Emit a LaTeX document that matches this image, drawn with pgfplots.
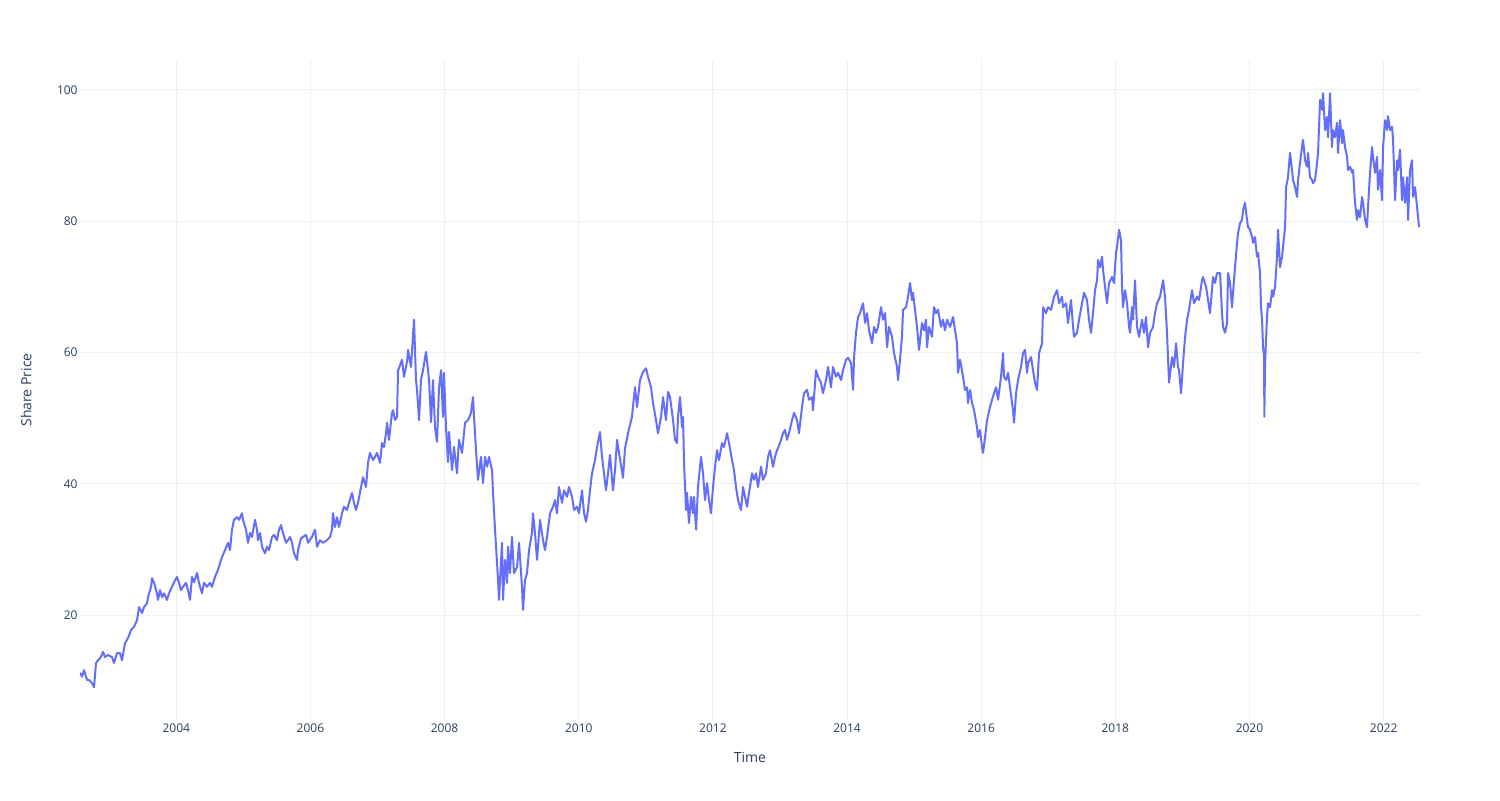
\documentclass[border=0pt]{standalone}
\usepackage{fontspec}
\setmainfont{Open Sans}
\usepackage{pgfplots}
\pgfplotsset{compat=1.18}
\definecolor{plotline}{HTML}{636EFA}
\definecolor{gridc}{HTML}{EBF0F8}
\definecolor{labc}{HTML}{2A3F5F}
\begin{document}
\begin{tikzpicture}
\useasboundingbox (-40pt,-40pt) rectangle (710pt,360pt);
\begin{axis}[
  at={(0,0)}, anchor=south west,
  scale only axis, width=670pt, height=330pt,
  xmin=2002.564, xmax=2022.543, ymin=4.0, ymax=104.57,
  axis line style={draw=none},
  major tick length=0pt,
  xtick={2004,2006,...,2022}, ytick={20,40,60,80,100},
  grid=major, major grid style={color=gridc, line width=0.5pt},
  /pgf/number format/1000 sep={},
  /pgf/number format/assume math mode=true,
  xticklabel style={font=\fontsize{6}{7}\selectfont, text=labc, inner sep=0pt, anchor=center, yshift=-4.3pt},
  yticklabel style={font=\fontsize{6}{7}\selectfont, text=labc, inner sep=0pt, anchor=east, xshift=-1pt},
  every axis x label/.style={at={(axis description cs:0.5,0)}, anchor=center, yshift=-18.5pt, font=\fontsize{7}{8}\selectfont, text=labc},
  every axis y label/.style={at={(axis description cs:0,0.5)}, anchor=center, xshift=-27pt, rotate=90, font=\fontsize{7}{8}\selectfont, text=labc},
  xlabel={Time}, ylabel={Share Price},
]
\addplot[plotline, line width=1pt, line join=round, no marks] table {
x y
2002.564 11.2
2002.594 10.6
2002.624 11.6
2002.669 10.1
2002.698 10.1
2002.743 9.6
2002.773 9.0
2002.803 12.7
2002.833 13.1
2002.877 13.6
2002.907 14.4
2002.937 13.6
2002.982 13.9
2003.041 13.6
2003.071 12.7
2003.116 14.2
2003.161 14.2
2003.190 13.1
2003.235 15.7
2003.280 16.5
2003.325 17.7
2003.369 18.2
2003.414 19.2
2003.444 21.2
2003.489 20.3
2003.518 21.2
2003.563 21.8
2003.578 22.7
2003.623 24.3
2003.638 25.6
2003.668 24.9
2003.712 23.3
2003.727 22.3
2003.757 23.8
2003.787 22.7
2003.817 23.3
2003.861 22.3
2003.891 23.3
2003.936 24.3
2003.966 25.0
2004.010 25.8
2004.040 24.9
2004.070 23.8
2004.100 24.3
2004.145 24.9
2004.174 23.8
2004.204 22.3
2004.234 25.8
2004.264 25.0
2004.309 26.4
2004.338 24.9
2004.383 23.3
2004.413 24.9
2004.458 24.3
2004.502 24.9
2004.532 24.3
2004.577 25.8
2004.622 26.9
2004.652 27.9
2004.681 28.8
2004.726 29.9
2004.771 31.0
2004.801 29.9
2004.830 33.0
2004.860 34.5
2004.905 34.9
2004.935 34.5
2004.980 35.5
2004.994 34.5
2005.039 33.0
2005.069 31.0
2005.099 32.5
2005.129 31.9
2005.173 34.5
2005.203 33.0
2005.218 31.4
2005.248 32.5
2005.278 30.4
2005.322 29.4
2005.352 30.4
2005.382 29.9
2005.427 31.9
2005.457 32.2
2005.501 31.4
2005.531 33.0
2005.561 33.7
2005.591 32.5
2005.636 31.0
2005.665 31.4
2005.695 31.9
2005.725 31.0
2005.755 29.4
2005.800 28.4
2005.815 29.9
2005.859 31.7
2005.889 31.9
2005.934 32.2
2005.964 31.0
2006.023 31.9
2006.068 33.0
2006.098 30.4
2006.143 31.4
2006.187 31.0
2006.247 31.4
2006.292 31.9
2006.321 33.0
2006.336 35.5
2006.366 33.4
2006.396 34.9
2006.426 33.4
2006.471 35.5
2006.500 36.5
2006.545 36.0
2006.575 37.1
2006.620 38.6
2006.650 37.1
2006.679 36.0
2006.709 37.1
2006.754 39.5
2006.784 41.0
2006.828 39.5
2006.858 43.2
2006.888 44.7
2006.933 43.6
2006.963 44.1
2006.992 44.7
2007.037 43.2
2007.067 46.2
2007.097 45.6
2007.127 47.7
2007.142 49.3
2007.171 46.7
2007.216 50.8
2007.231 51.2
2007.261 49.7
2007.291 50.2
2007.306 57.3
2007.320 57.6
2007.365 58.9
2007.395 56.3
2007.440 58.6
2007.455 60.4
2007.499 57.8
2007.514 60.1
2007.544 65.0
2007.574 55.8
2007.589 54.3
2007.619 49.7
2007.648 55.8
2007.678 57.3
2007.723 60.1
2007.753 57.3
2007.768 55.8
2007.798 49.4
2007.827 55.8
2007.857 48.6
2007.887 46.4
2007.917 54.7
2007.947 57.3
2007.976 50.2
2007.991 56.9
2008.021 48.6
2008.051 43.3
2008.066 47.9
2008.111 42.1
2008.140 45.6
2008.185 41.6
2008.215 46.7
2008.260 44.7
2008.305 49.3
2008.349 49.7
2008.394 50.8
2008.424 53.2
2008.439 50.2
2008.469 45.1
2008.498 40.6
2008.543 44.1
2008.573 40.1
2008.603 44.1
2008.633 42.6
2008.662 44.1
2008.707 42.1
2008.722 38.6
2008.752 33.0
2008.782 27.9
2008.797 25.3
2008.811 22.3
2008.856 31.0
2008.871 22.3
2008.901 28.4
2008.931 24.9
2008.946 30.4
2008.975 26.4
2009.005 31.9
2009.035 26.4
2009.080 27.3
2009.110 31.0
2009.154 24.3
2009.169 20.8
2009.199 25.3
2009.229 26.4
2009.259 29.9
2009.303 32.5
2009.318 35.5
2009.348 32.5
2009.378 28.4
2009.423 34.5
2009.467 31.4
2009.497 29.9
2009.527 31.9
2009.572 35.5
2009.617 36.5
2009.646 37.5
2009.676 35.5
2009.706 39.5
2009.751 37.1
2009.781 39.0
2009.825 38.0
2009.855 39.5
2009.900 38.0
2009.930 36.0
2009.974 36.5
2010.004 35.5
2010.049 39.0
2010.079 35.5
2010.109 34.2
2010.138 36.0
2010.168 39.0
2010.198 41.6
2010.243 43.6
2010.273 45.6
2010.317 47.9
2010.347 44.1
2010.377 41.6
2010.407 39.0
2010.437 41.6
2010.466 44.4
2010.511 39.0
2010.541 42.1
2010.571 46.7
2010.601 44.7
2010.660 40.9
2010.690 45.4
2010.735 47.7
2010.794 50.2
2010.839 54.7
2010.869 51.7
2010.914 55.8
2010.958 57.0
2011.003 57.6
2011.033 56.3
2011.078 54.7
2011.108 52.3
2011.152 49.7
2011.182 47.7
2011.227 50.2
2011.257 53.2
2011.301 49.7
2011.331 54.0
2011.361 53.2
2011.406 49.7
2011.436 46.7
2011.465 46.2
2011.480 50.2
2011.510 53.2
2011.540 48.6
2011.555 50.2
2011.570 43.2
2011.600 36.0
2011.615 38.6
2011.644 34.0
2011.674 38.0
2011.704 35.5
2011.719 38.0
2011.749 33.0
2011.778 39.5
2011.823 44.1
2011.853 41.6
2011.883 37.5
2011.913 40.1
2011.943 37.5
2011.972 35.5
2012.002 39.5
2012.032 42.6
2012.062 45.1
2012.092 43.6
2012.136 46.2
2012.166 45.6
2012.211 47.7
2012.241 46.2
2012.286 43.6
2012.315 42.1
2012.345 39.5
2012.375 37.5
2012.420 36.0
2012.449 39.5
2012.479 38.0
2012.509 36.5
2012.539 38.6
2012.584 41.6
2012.613 40.6
2012.643 41.6
2012.673 39.5
2012.718 42.6
2012.748 40.6
2012.792 41.6
2012.822 44.1
2012.852 45.1
2012.897 42.6
2012.927 44.1
2012.956 45.1
2013.001 46.2
2013.046 47.7
2013.076 48.2
2013.106 46.7
2013.135 47.7
2013.180 49.7
2013.210 50.8
2013.255 49.7
2013.284 47.7
2013.329 51.7
2013.359 53.8
2013.404 54.3
2013.434 52.8
2013.478 53.2
2013.493 51.2
2013.538 57.3
2013.568 56.3
2013.612 55.4
2013.642 53.8
2013.687 55.8
2013.717 57.8
2013.761 54.7
2013.791 57.8
2013.836 56.3
2013.866 56.9
2013.911 55.8
2013.940 57.3
2013.985 58.9
2014.015 59.2
2014.060 58.4
2014.090 54.3
2014.105 59.3
2014.134 63.0
2014.164 65.4
2014.194 66.0
2014.239 67.5
2014.269 64.5
2014.298 66.0
2014.328 63.4
2014.373 61.4
2014.403 63.9
2014.433 63.0
2014.462 63.9
2014.507 66.9
2014.537 65.0
2014.567 66.0
2014.597 60.8
2014.626 63.9
2014.671 62.4
2014.701 59.9
2014.746 57.8
2014.761 55.8
2014.790 58.9
2014.820 62.4
2014.835 66.5
2014.880 66.9
2014.910 68.5
2014.939 70.6
2014.969 68.0
2014.984 69.1
2015.014 66.5
2015.044 63.9
2015.074 60.4
2015.118 64.5
2015.148 63.4
2015.178 65.0
2015.193 60.8
2015.223 63.9
2015.267 62.4
2015.297 66.9
2015.327 66.0
2015.357 66.5
2015.402 63.9
2015.431 65.0
2015.461 63.4
2015.491 65.0
2015.536 63.9
2015.581 65.4
2015.610 63.4
2015.640 61.4
2015.655 56.9
2015.685 58.9
2015.730 56.3
2015.759 54.3
2015.789 54.7
2015.804 52.3
2015.834 54.3
2015.864 52.3
2015.894 51.2
2015.938 48.6
2015.953 47.1
2015.983 48.2
2016.013 45.6
2016.028 44.7
2016.058 47.1
2016.088 49.7
2016.132 51.7
2016.162 52.8
2016.192 53.8
2016.222 54.7
2016.252 52.8
2016.296 56.3
2016.326 59.9
2016.341 56.3
2016.371 55.8
2016.401 56.9
2016.430 54.7
2016.475 51.2
2016.490 49.3
2016.520 53.8
2016.550 55.8
2016.594 57.8
2016.624 59.9
2016.654 60.4
2016.684 56.9
2016.699 58.4
2016.744 59.3
2016.773 57.3
2016.803 55.4
2016.833 54.3
2016.863 59.9
2016.908 61.4
2016.923 66.9
2016.967 66.0
2016.997 66.9
2017.042 66.5
2017.087 68.5
2017.131 69.5
2017.161 67.5
2017.206 68.5
2017.221 66.9
2017.266 67.5
2017.295 64.5
2017.340 68.0
2017.370 63.9
2017.385 62.4
2017.429 63.0
2017.459 65.0
2017.504 67.5
2017.534 69.1
2017.578 68.0
2017.608 65.0
2017.638 63.0
2017.668 66.0
2017.698 69.5
2017.728 71.0
2017.743 74.1
2017.772 73.0
2017.802 74.6
2017.817 72.6
2017.847 70.0
2017.877 67.5
2017.907 70.6
2017.951 71.5
2017.981 70.6
2018.011 75.2
2018.026 76.1
2018.056 78.7
2018.085 77.1
2018.100 70.0
2018.115 66.9
2018.145 69.5
2018.175 67.5
2018.205 63.9
2018.220 63.0
2018.249 66.9
2018.264 65.0
2018.294 71.0
2018.324 63.9
2018.354 62.4
2018.399 65.0
2018.428 63.0
2018.458 65.4
2018.488 60.8
2018.518 63.0
2018.563 63.9
2018.592 66.0
2018.622 67.5
2018.667 68.5
2018.712 71.0
2018.741 68.5
2018.771 63.0
2018.801 55.4
2018.846 59.3
2018.876 57.8
2018.906 61.4
2018.935 57.8
2018.950 57.3
2018.980 53.8
2019.010 58.4
2019.040 62.4
2019.070 65.0
2019.099 66.5
2019.144 69.5
2019.174 67.5
2019.219 68.5
2019.248 68.0
2019.293 71.0
2019.308 71.5
2019.353 70.0
2019.383 68.0
2019.412 66.0
2019.457 71.5
2019.487 70.6
2019.517 72.1
2019.562 72.1
2019.591 66.0
2019.606 63.9
2019.636 63.0
2019.666 64.5
2019.681 72.1
2019.711 70.6
2019.740 66.9
2019.755 69.1
2019.785 73.0
2019.815 76.7
2019.830 78.2
2019.860 79.7
2019.890 80.2
2019.905 81.7
2019.934 82.8
2019.964 80.2
2019.979 79.1
2020.009 78.7
2020.039 77.6
2020.054 76.7
2020.083 77.6
2020.113 74.6
2020.128 75.2
2020.158 72.1
2020.173 66.9
2020.188 65.0
2020.203 60.8
2020.218 59.3
2020.222 50.2
2020.233 58.4
2020.262 65.4
2020.277 67.5
2020.307 66.9
2020.337 69.5
2020.352 68.5
2020.382 70.0
2020.411 74.6
2020.426 78.7
2020.456 73.0
2020.486 74.6
2020.501 76.1
2020.531 79.1
2020.546 85.2
2020.575 86.7
2020.605 90.4
2020.635 87.8
2020.650 86.3
2020.680 85.2
2020.710 83.7
2020.725 86.3
2020.754 88.9
2020.784 91.3
2020.799 92.4
2020.829 89.3
2020.859 88.3
2020.874 90.4
2020.903 86.7
2020.933 86.3
2020.948 85.8
2020.978 86.3
2021.008 88.9
2021.023 90.4
2021.053 98.5
2021.082 97.0
2021.097 99.5
2021.127 93.9
2021.157 95.9
2021.172 92.8
2021.202 99.5
2021.231 91.3
2021.246 93.9
2021.276 92.8
2021.306 95.0
2021.321 90.4
2021.351 95.4
2021.381 91.9
2021.395 93.9
2021.425 91.3
2021.455 89.8
2021.470 87.8
2021.500 88.3
2021.530 87.4
2021.545 87.8
2021.574 82.8
2021.604 80.2
2021.619 81.7
2021.649 80.6
2021.679 83.7
2021.694 82.8
2021.724 80.2
2021.753 79.1
2021.768 82.2
2021.798 87.4
2021.828 91.3
2021.843 89.8
2021.873 87.4
2021.902 89.8
2021.917 84.8
2021.947 87.8
2021.977 83.2
2021.992 91.3
2022.022 95.4
2022.052 93.9
2022.066 96.0
2022.096 93.9
2022.126 94.4
2022.141 92.4
2022.171 83.2
2022.201 89.3
2022.216 87.8
2022.245 90.9
2022.275 83.2
2022.290 86.7
2022.320 82.8
2022.350 86.7
2022.365 80.2
2022.394 87.8
2022.424 89.3
2022.439 83.7
2022.469 85.2
2022.499 82.2
2022.514 80.6
2022.529 79.1
};
\end{axis}
\end{tikzpicture}
\end{document}
